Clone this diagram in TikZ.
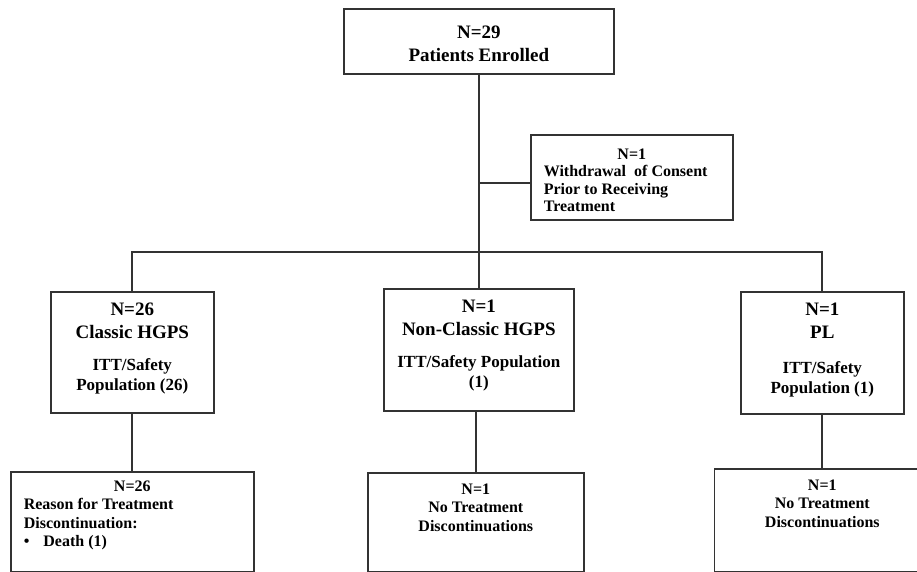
\documentclass[tikz,border=0pt]{standalone}
\usepackage{fontspec}
\setmainfont{Liberation Serif}
\newcommand{\cellbox}[3]{\parbox[c][#1][t]{#2}{#3}}

\begin{document}
\begin{tikzpicture}[
    x=1pt, y=-1pt,
    box/.style={rectangle, draw=black!80, line width=1.6pt, inner sep=0pt, anchor=north west, font=\bfseries},
    link/.style={draw=black!80, line width=1.8pt}
]
    \clip (0,0) rectangle (917,572);

    \node[box] (enr) at (343,8) {\cellbox{65pt}{270pt}{\centering\fontsize{19}{23}\selectfont\vspace*{17pt}N=29\\Patients Enrolled}};
    \node[box, inner xsep=13pt] (wd) at (530,134) {\cellbox{85pt}{176pt}{\fontsize{16}{17.5}\selectfont\vspace*{14pt}{\centering N=1\par}Withdrawal\ \ of Consent\\Prior to Receiving\\Treatment}};

    \node[box] (cl) at (50,291) {\cellbox{121pt}{163pt}{\centering\vspace*{11pt}\fontsize{19}{23}\selectfont N=26\\Classic HGPS\par\vspace{12pt}\fontsize{17}{20}\selectfont ITT/Safety\\Population (26)}};
    \node[box] (nc) at (383,288) {\cellbox{122pt}{190pt}{\centering\vspace*{11pt}\fontsize{19}{23}\selectfont N=1\\Non-Classic HGPS\par\vspace{12pt}\fontsize{17}{20}\selectfont ITT/Safety Population\\(1)}};
    \node[box] (pl) at (740,291) {\cellbox{122pt}{163pt}{\centering\vspace*{11pt}\fontsize{19}{23}\selectfont N=1\\PL\par\vspace{15pt}\fontsize{17}{20}\selectfont ITT/Safety\\Population (1)}};

    \node[box, inner xsep=13pt] (cldisc) at (10,471) {\cellbox{100pt}{217pt}{\fontsize{16}{18.5}\selectfont\vspace*{9pt}{\centering N=26\par}Reason for Treatment\\Discontinuation:\\\textbullet\hspace{14pt}Death (1)}};
    \node[box] (ncdisc) at (367,472) {\cellbox{99pt}{216pt}{\centering\fontsize{16}{18.5}\selectfont\vspace*{11pt}N=1\\No Treatment\\Discontinuations}};
    \node[box] (pldisc) at (713.5,468) {\cellbox{103pt}{216pt}{\centering\fontsize{16}{18.5}\selectfont\vspace*{11pt}N=1\\No Treatment\\Discontinuations}};

    \coordinate (bus) at (478,252);
    \coordinate (wdjoin) at ([yshift=-5.5pt]wd.west);

    \draw[link] (enr) -- (nc);
    \draw[link] (enr.south |- wdjoin) -- (wdjoin);
    \draw[link] (cl) -- (cl |- bus) -- (pl |- bus) -- (pl);
    \draw[link] (cl) -- (cldisc);
    \draw[link] (ncdisc.north |- nc.south) -- (ncdisc);
    \draw[link] (pl) -- (pldisc);
\end{tikzpicture}
\end{document}
